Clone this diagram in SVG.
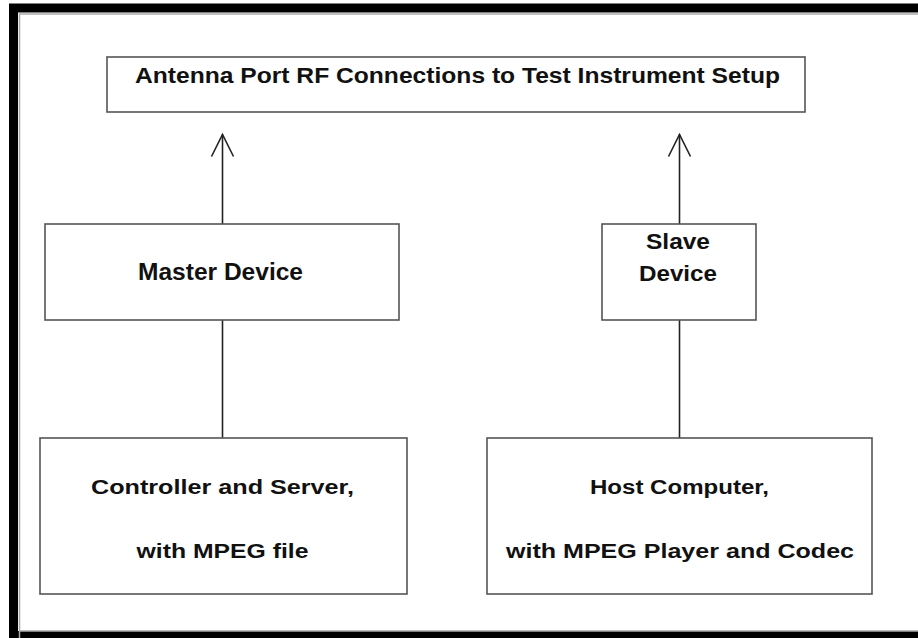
<svg xmlns="http://www.w3.org/2000/svg" width="918" height="638" viewBox="0 0 918 638">
<defs>
<style>
.box{fill:#fff;stroke:#555;stroke-width:1.6}
.lbl{font-family:"Liberation Sans",Arial,sans-serif;font-weight:bold;fill:#111;text-anchor:middle}
.conn{stroke:#222;stroke-width:1.6;fill:none}
</style>
<marker id="openArrow" markerUnits="userSpaceOnUse" viewBox="-24 -13 26 26" refX="0" refY="0" markerWidth="26" markerHeight="26" orient="auto">
<path d="M-22,-11 L0,0 L-22,11" fill="none" stroke="#222" stroke-width="1.6"/>
</marker>
</defs>
<rect x="0" y="0" width="918" height="638" fill="#fff"/>
<g id="frame">
<rect x="13.5" y="8" width="1000" height="627.5" fill="none" stroke="#000" stroke-width="9"/>
<path d="M19.5,638 V14 H918" fill="none" stroke="#aaa" stroke-width="1.5"/>
<path d="M19.5,631 H918" fill="none" stroke="#aaa" stroke-width="1.5"/>
</g>
<g id="connectors">
<line class="conn" x1="222.5" y1="224" x2="222.5" y2="134.5" marker-end="url(#openArrow)"/>
<line class="conn" x1="679.5" y1="224" x2="679.5" y2="134.5" marker-end="url(#openArrow)"/>
<line class="conn" x1="222.5" y1="320" x2="222.5" y2="438"/>
<line class="conn" x1="679.5" y1="320" x2="679.5" y2="438"/>
</g>
<g id="antenna">
<rect class="box" x="107" y="57" width="698" height="55"/>
<text class="lbl" x="457.5" y="82.5" font-size="22" textLength="645" lengthAdjust="spacingAndGlyphs">Antenna Port RF Connections to Test Instrument Setup</text>
</g>
<g id="master">
<rect class="box" x="45" y="224" width="354" height="96"/>
<text class="lbl" x="220.5" y="280" font-size="23" textLength="165" lengthAdjust="spacingAndGlyphs">Master Device</text>
</g>
<g id="slave">
<rect class="box" x="602" y="224" width="154" height="96"/>
<text class="lbl" x="678" y="249" font-size="22" textLength="64" lengthAdjust="spacingAndGlyphs">Slave</text>
<text class="lbl" x="678" y="281" font-size="22" textLength="78" lengthAdjust="spacingAndGlyphs">Device</text>
</g>
<g id="controller">
<rect class="box" x="40" y="438" width="367" height="156"/>
<text class="lbl" x="222.5" y="493.5" font-size="20" textLength="263" lengthAdjust="spacingAndGlyphs">Controller and Server,</text>
<text class="lbl" x="222.5" y="557.5" font-size="20" textLength="172" lengthAdjust="spacingAndGlyphs">with MPEG file</text>
</g>
<g id="host">
<rect class="box" x="487" y="438" width="385" height="156"/>
<text class="lbl" x="679.5" y="493.5" font-size="20" textLength="179" lengthAdjust="spacingAndGlyphs">Host Computer,</text>
<text class="lbl" x="680" y="557.5" font-size="20" textLength="348" lengthAdjust="spacingAndGlyphs">with MPEG Player and Codec</text>
</g>
</svg>
